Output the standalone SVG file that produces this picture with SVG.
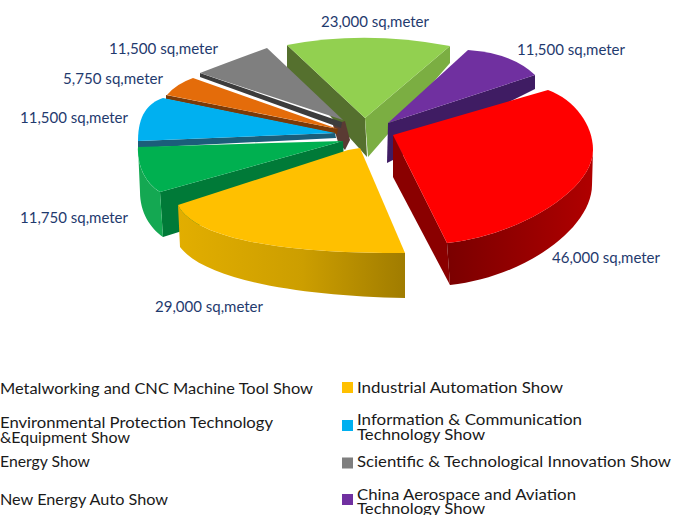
<svg xmlns="http://www.w3.org/2000/svg" width="688" height="515" viewBox="0 0 688 515">
<style>
.lbl{font-family:Lato,"Liberation Sans",sans-serif;font-size:14.5px;fill:#1F3A6E}
.leg{font-family:Lato,"Liberation Sans",sans-serif;font-size:15px;fill:#1A1A1A}
</style>
<defs>
<linearGradient id="yRim" gradientUnits="userSpaceOnUse" x1="178" y1="0" x2="405" y2="0">
<stop offset="0" stop-color="#E2AE00"/><stop offset="0.55" stop-color="#CC9E00"/><stop offset="1" stop-color="#A07C00"/>
</linearGradient>
<linearGradient id="rRim" gradientUnits="userSpaceOnUse" x1="447" y1="0" x2="593" y2="0">
<stop offset="0" stop-color="#7A0000"/><stop offset="0.6" stop-color="#9A0000"/><stop offset="1" stop-color="#B00000"/>
</linearGradient>
</defs>
<rect width="688" height="515" fill="#FFFFFF"/>

<g id="slice-new-energy-auto">
<path d="M287,45 L365,118 L367,157 L287,68 Z" fill="#55702E"/>
<path d="M365,118 L450,46 L450,63 L368,157 Z" fill="#7BAE42"/>
<path d="M287,45 Q365,30 450,46 L365,118 Z" fill="#92D050"/>
<text class="lbl" x="321" y="27" textLength="108" lengthAdjust="spacingAndGlyphs">23,000 sq,meter</text>
</g>

<g id="slice-aerospace">
<path d="M388,123 L535,75 L535,89 L387,163 Z" fill="#3F1C63"/>
<path d="M388,123 L468,50 Q512,53 535,75 Z" fill="#7030A0"/>
<text class="lbl" x="517" y="55" textLength="108" lengthAdjust="spacingAndGlyphs">11,500 sq,meter</text>
</g>

<g id="center">
<path d="M333,125 L345,121 L350,140 L345,150 L338,142 Z" fill="#5A3B33"/>
</g>

<g id="slice-scientific">
<path d="M200,73 L342,122 L341,128 L200,77 Z" fill="#3C3C3C"/>
<path d="M200,73 Q226,63 267,48 L343,120 Z" fill="#7F7F7F"/>
<text class="lbl" x="109" y="54" textLength="109" lengthAdjust="spacingAndGlyphs">11,500 sq,meter</text>
</g>

<g id="slice-energy">
<path d="M166,95 L338,129 L337,134 L166,99 Z" fill="#7A3A08"/>
<path d="M167,95 Q176,84 193,78 L338,129 Z" fill="#E46C0A"/>
<text class="lbl" x="63" y="84" textLength="100" lengthAdjust="spacingAndGlyphs">5,750 sq,meter</text>
</g>

<g id="slice-information">
<path d="M138,141 L335,133 L336,138 L138,148 Z" fill="#1B5E7A"/>
<path d="M163,98 C148,103 138,115 138,141 L335,133 Z" fill="#00B0F0"/>
<text class="lbl" x="20" y="122.7" textLength="108" lengthAdjust="spacingAndGlyphs">11,500 sq,meter</text>
</g>

<g id="slice-environmental">
<path d="M160,192 L343,141 L345,180 L163,237 Z" fill="#007A38"/>
<path d="M138,147 C137,165 145,183 160,192 L163,237 C150,228 140,212 140,192 Z" fill="#14A852"/>
<path d="M343,141 L138,147 C137,165 145,183 160,192 Z" fill="#00B050"/>
<text class="lbl" x="20" y="222.7" textLength="108" lengthAdjust="spacingAndGlyphs">11,750 sq,meter</text>
</g>

<g id="slice-metalworking">
<path d="M393,135 L447,243 L450,285 L393,177 Z" fill="#8A0000"/>
<path d="M593,150 C593,190 520,235 447,243 L450,285 C525,277 592,228 592,185 Z" fill="url(#rRim)"/>
<path d="M393,135 L548,90 C575,100 593,125 593,150 C593,190 520,235 447,243 Z" fill="#FF0000"/>
<text class="lbl" x="552" y="262.5" textLength="108" lengthAdjust="spacingAndGlyphs">46,000 sq,meter</text>
</g>

<g id="slice-industrial">
<path d="M178,205 C195,240 290,254 405,253 L405,298 C300,296 205,280 180,247 Z" fill="url(#yRim)"/>
<path d="M178,205 L348,150 L360,148 L405,253 C290,254 195,240 178,205 Z" fill="#FFC000"/>
<text class="lbl" x="155" y="312" textLength="108" lengthAdjust="spacingAndGlyphs">29,000 sq,meter</text>
</g>

<g id="legend">
<g id="leg-metalworking"><text class="leg" x="0" y="394" textLength="313" lengthAdjust="spacingAndGlyphs">Metalworking and CNC Machine Tool Show</text></g>
<g id="leg-environmental"><text class="leg" x="0" y="427.5" textLength="273" lengthAdjust="spacingAndGlyphs">Environmental Protection Technology</text><text class="leg" x="0" y="443" textLength="130" lengthAdjust="spacingAndGlyphs">&amp;Equipment Show</text></g>
<g id="leg-energy"><text class="leg" x="0" y="466.5" textLength="90" lengthAdjust="spacingAndGlyphs">Energy Show</text></g>
<g id="leg-new-energy"><text class="leg" x="0" y="505" textLength="168" lengthAdjust="spacingAndGlyphs">New Energy Auto Show</text></g>
<g id="leg-industrial"><rect x="342" y="382" width="11" height="11" fill="#FFC000"/><text class="leg" x="357" y="393" textLength="206" lengthAdjust="spacingAndGlyphs">Industrial Automation Show</text></g>
<g id="leg-information"><rect x="342" y="420" width="11" height="11" fill="#00B0F0"/><text class="leg" x="357" y="424.5" textLength="225" lengthAdjust="spacingAndGlyphs">Information &amp; Communication</text><text class="leg" x="357" y="440" textLength="128" lengthAdjust="spacingAndGlyphs">Technology Show</text></g>
<g id="leg-scientific"><rect x="342" y="457.5" width="11" height="11" fill="#7F7F7F"/><text class="leg" x="357" y="466.5" textLength="314" lengthAdjust="spacingAndGlyphs">Scientific &amp; Technological Innovation Show</text></g>
<g id="leg-aerospace"><rect x="342" y="494" width="11" height="11" fill="#7030A0"/><text class="leg" x="357" y="499.5" textLength="219" lengthAdjust="spacingAndGlyphs">China Aerospace and Aviation</text><text class="leg" x="357" y="514" textLength="128" lengthAdjust="spacingAndGlyphs">Technology Show</text></g>
</g>
</svg>
